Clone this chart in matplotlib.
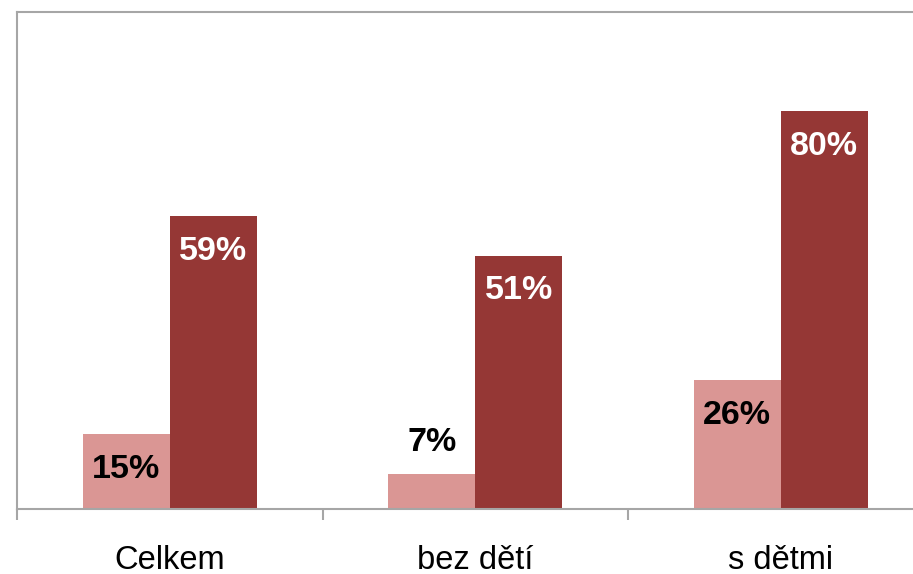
import matplotlib
matplotlib.use('Agg')
import matplotlib.pyplot as plt
import numpy as np

# data
categories = ['Celkem', 'bez dětí', 's dětmi']
series_light = [15, 7, 26]
series_dark = [59, 51, 80]

LIGHT = '#DA9694'
DARK = '#953735'
AXIS_GREY = '#A6A6A6'

plt.rcParams['font.family'] = ['Liberation Sans', 'DejaVu Sans']

W, H = 913, 574
fig = plt.figure(figsize=(W / 100, H / 100), dpi=100)
# axes runs a little past the right edge of the figure, as in the reference
ax = fig.add_axes([17 / W, (H - 509) / H, 916.5 / W, (509 - 12) / H])

x = np.arange(len(categories))
bw = 0.285
bars_l = ax.bar(x - bw / 2, series_light, width=bw, color=LIGHT, edgecolor='none', zorder=2)
bars_d = ax.bar(x + bw / 2, series_dark, width=bw, color=DARK, edgecolor='none', zorder=2)


def label_bars(bars, values, color):
    for b, v in zip(bars, values):
        cx = b.get_x() + b.get_width() / 2
        if v < 10:
            # too short, put label above the bar
            ax.annotate(f'{v}%', (cx, v), xytext=(0, 23), textcoords='offset points',
                        ha='center', va='center', fontsize=24.5, fontweight='bold', color='black')
        else:
            ax.annotate(f'{v}%', (cx, v), xytext=(0, -25.5), textcoords='offset points',
                        ha='center', va='center', fontsize=24.5, fontweight='bold', color=color)


label_bars(bars_l, series_light, 'black')
label_bars(bars_d, series_dark, 'white')

ax.set_xlim(-0.5, 2.5)
ax.set_ylim(0, 100)

for s in ['left', 'top', 'bottom']:
    ax.spines[s].set_color(AXIS_GREY)
    ax.spines[s].set_linewidth(1.5)
ax.spines['right'].set_visible(False)

ax.set_yticks([])
ax.set_xticks(x)
ax.set_xticklabels(categories, fontsize=23.5)
ax.tick_params(axis='x', which='major', length=0, pad=26)
ax.set_xticks([-0.5, 0.5, 1.5, 2.5], minor=True)
ax.tick_params(axis='x', which='minor', length=8, width=1.5, color=AXIS_GREY)

fig.savefig('out.png', dpi=100)
